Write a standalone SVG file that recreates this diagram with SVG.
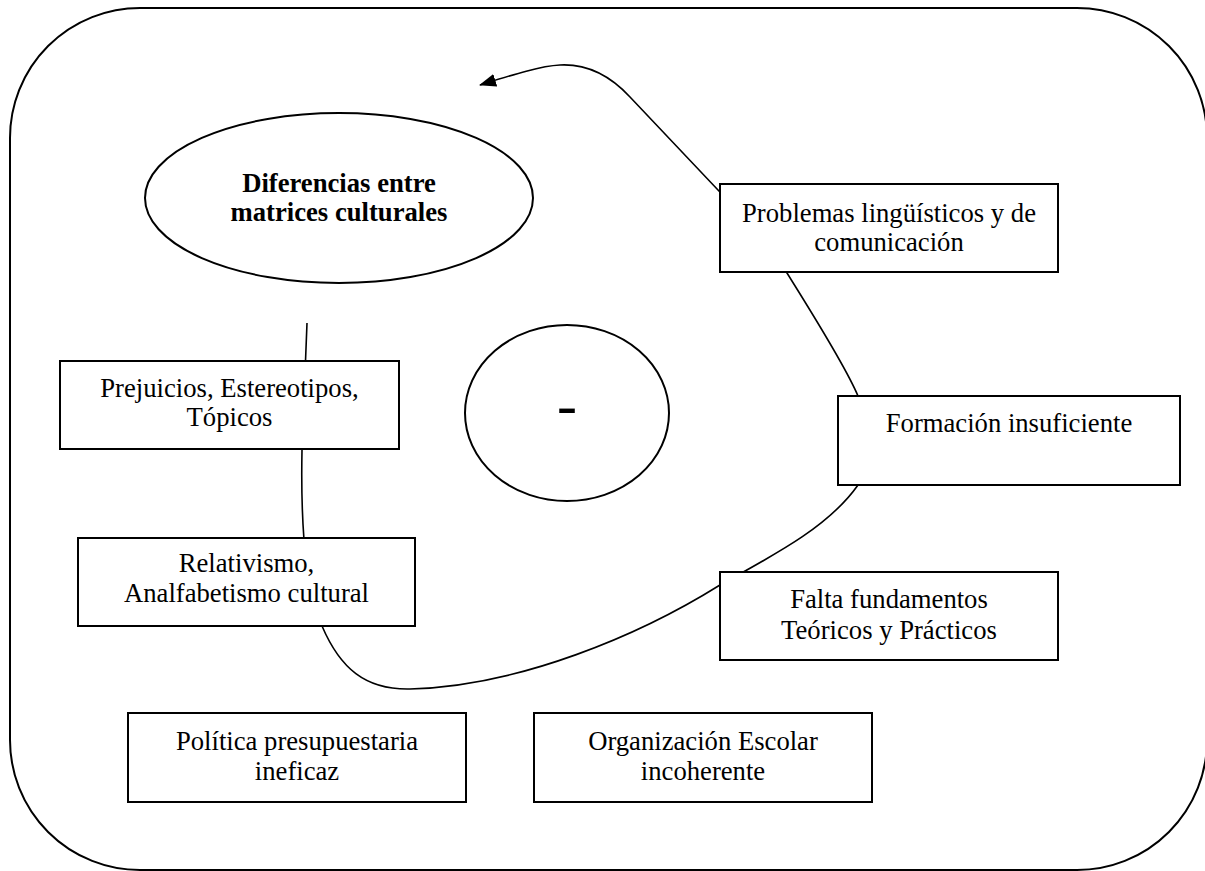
<svg xmlns="http://www.w3.org/2000/svg" width="1205" height="871" viewBox="0 0 1205 871">
<style>
.frame{fill:none;stroke:#000;stroke-width:2}
.box{fill:#fff;stroke:#000;stroke-width:2}
.conn{fill:none;stroke:#000;stroke-width:1.6}
.t{font-family:"Liberation Serif","Times New Roman",serif;font-size:26.67px;fill:#000;text-anchor:middle}
.b{font-weight:bold}
</style>
<defs>
<marker id="arr" markerUnits="userSpaceOnUse" markerWidth="17" markerHeight="13" viewBox="0 0 17 13" refX="16" refY="6.5" orient="auto">
<path d="M0,0 L17,6.5 L0,13 z" fill="#000"/>
</marker>
</defs>
<rect class="frame" x="10" y="8" width="1197" height="862" rx="130" ry="130"/>
<g id="connectors">
<path class="conn" marker-end="url(#arr)" d="M307 323 L302 450 Q301 500 304 540 C306 580 312 610 322 626 C340 668 365 690 410 689 C520 686 640 635 720 585 C780 552 830 525 858 485 C875 460 870 425 858 396 C845 365 810 310 787 273 C765 240 745 218 718 190 L630 97 C605 70 580 64 560 65 C540 66 512 75 480 85"/>
</g>
<g id="diferencias">
<ellipse class="box" cx="339" cy="198" rx="194" ry="85"/>
<text class="t b" x="339" y="192">Diferencias entre</text>
<text class="t b" x="339" y="221">matrices culturales</text>
</g>
<g id="centro">
<ellipse class="box" cx="567" cy="413" rx="102" ry="88"/>
<text class="t" x="567" y="425" style="font-size:60px">-</text>
</g>
<g id="problemas">
<rect class="box" x="720" y="184" width="338" height="88"/>
<text class="t" x="889" y="222">Problemas lingüísticos y de</text>
<text class="t" x="889" y="251">comunicación</text>
</g>
<g id="formacion">
<rect class="box" x="838" y="396" width="342" height="89"/>
<text class="t" x="1009" y="432">Formación insuficiente</text>
</g>
<g id="falta">
<rect class="box" x="720" y="572" width="338" height="88"/>
<text class="t" x="889" y="608">Falta fundamentos</text>
<text class="t" x="889" y="639">Teóricos y Prácticos</text>
</g>
<g id="prejuicios">
<rect class="box" x="60" y="361" width="339" height="88"/>
<text class="t" x="229.5" y="397">Prejuicios, Estereotipos,</text>
<text class="t" x="229.5" y="426">Tópicos</text>
</g>
<g id="relativismo">
<rect class="box" x="78" y="538" width="337" height="88"/>
<text class="t" x="246.5" y="572">Relativismo,</text>
<text class="t" x="246.5" y="602">Analfabetismo cultural</text>
</g>
<g id="politica">
<rect class="box" x="128" y="713" width="338" height="89"/>
<text class="t" x="297" y="750">Política presupuestaria</text>
<text class="t" x="297" y="780">ineficaz</text>
</g>
<g id="organizacion">
<rect class="box" x="534" y="713" width="338" height="89"/>
<text class="t" x="703" y="750">Organización Escolar</text>
<text class="t" x="703" y="780">incoherente</text>
</g>
</svg>
